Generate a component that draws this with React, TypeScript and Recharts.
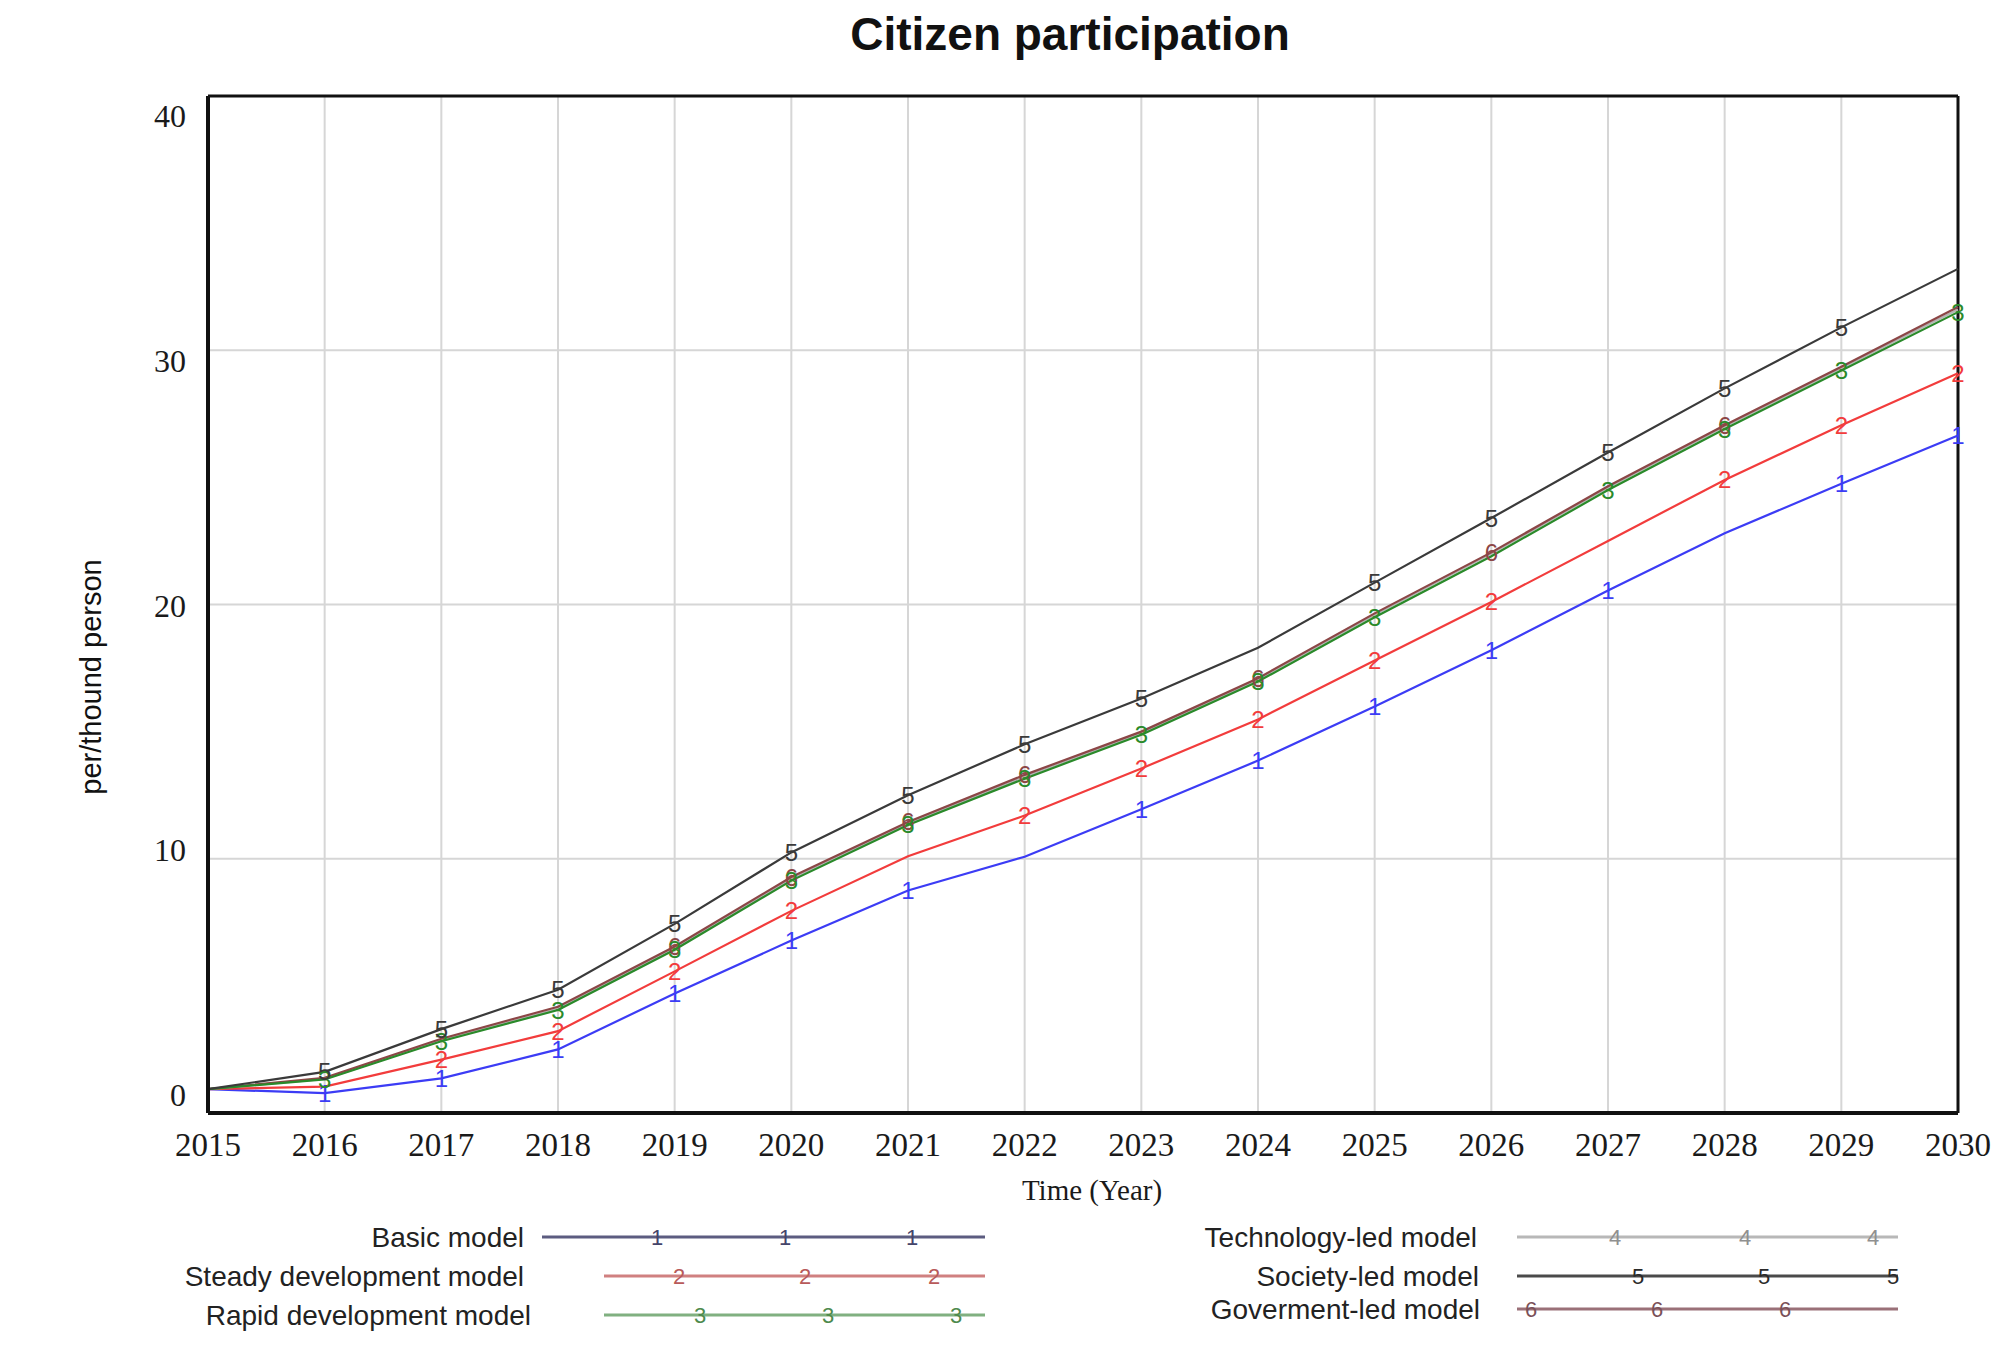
import React from 'react';
import { LineChart, Line, XAxis, YAxis, CartesianGrid, ReferenceLine } from 'recharts';

const YEARS = [2015, 2016, 2017, 2018, 2019, 2020, 2021, 2022, 2023, 2024, 2025, 2026, 2027, 2028, 2029, 2030];
const Y_TICKS = [0, 10, 20, 30, 40];

const BASIC = [0.94, 0.78, 1.36, 2.5, 4.7, 6.78, 8.75, 10.08, 11.95, 13.86, 15.99, 18.2, 20.55, 22.8, 24.75, 26.65];
const STEADY = [0.94, 1.04, 2.1, 3.22, 5.57, 7.95, 10.1, 11.7, 13.55, 15.48, 17.8, 20.1, 22.5, 24.9, 27.05, 29.1];
const RAPID = [0.94, 1.32, 2.82, 4.05, 6.42, 9.14, 11.33, 13.15, 14.88, 16.97, 19.5, 21.9, 24.5, 26.9, 29.2, 31.5];
const TECH = [0.94, 1.34, 2.86, 4.1, 6.48, 9.2, 11.4, 13.22, 14.95, 17.05, 19.6, 22.0, 24.6, 27.0, 29.3, 31.6];
const SOCIETY = [0.94, 1.62, 3.3, 4.85, 7.44, 10.25, 12.5, 14.5, 16.3, 18.3, 20.86, 23.4, 25.98, 28.5, 30.9, 33.2];
const GOV = [0.94, 1.38, 2.92, 4.18, 6.55, 9.28, 11.45, 13.3, 15.0, 17.1, 19.65, 22.05, 24.65, 27.05, 29.35, 31.7];

const NAMES = ['Basic model', 'Steady development model', 'Rapid development model', 'Technology-led model', 'Society-led model', 'Goverment-led model'];
const LABELS = ['1', '2', '3', '4', '5', '6'];

const MARK_BASIC = [2016, 2017, 2018, 2019, 2020, 2021, 2023, 2024, 2025, 2026, 2027, 2029, 2030];
const MARK_STEADY = [2017, 2018, 2019, 2020, 2022, 2023, 2024, 2025, 2026, 2028, 2029, 2030];
const MARK_RAPID = [2016, 2017, 2018, 2019, 2020, 2021, 2022, 2023, 2024, 2025, 2027, 2028, 2029, 2030];
const MARK_TECH: number[] = [];
const MARK_SOCIETY = [2016, 2017, 2018, 2019, 2020, 2021, 2022, 2023, 2025, 2026, 2027, 2028, 2029];
const MARK_GOV = [2019, 2020, 2021, 2022, 2024, 2026, 2028];

const data = YEARS.map((year, i) => ({
  year,
  basic: BASIC[i],
  steady: STEADY[i],
  rapid: RAPID[i],
  tech: TECH[i],
  society: SOCIETY[i],
  gov: GOV[i],
}));

const makeDot = (label: string, color: string, years: number[]) => (props: any) => {
  const { cx, cy, payload, index } = props;
  if (!payload || !years.includes(payload.year)) return <g key={`d-${label}-${index}`} />;
  return (
    <text
      key={`d-${label}-${index}`}
      x={cx}
      y={cy}
      textAnchor="middle"
      dominantBaseline="central"
      fontFamily="'Liberation Sans', Arial, sans-serif"
      fontSize={24}
      fill={color}
    >
      {label}
    </text>
  );
};

const XTick = (props: any) => {
  const { x, y, payload } = props;
  return (
    <text x={x} y={y + 32} textAnchor="middle" dominantBaseline="central" fontFamily="'Liberation Serif', 'Times New Roman', serif" fontSize={33} fill="#1a1a1a">
      {payload.value}
    </text>
  );
};

const YTick = (props: any) => {
  const { x, y, payload } = props;
  const v = payload.value;
  return (
    <text x={x - 22} y={y + 20 - (40 - v) * 0.95} textAnchor="end" dominantBaseline="central" fontFamily="'Liberation Serif', 'Times New Roman', serif" fontSize={32} fill="#1a1a1a">
      {v}
    </text>
  );
};

const SERIES = [
  { key: 'basic', color: '#3c3cf5', label: '1', marks: MARK_BASIC },
  { key: 'steady', color: '#f23c3c', label: '2', marks: MARK_STEADY },
  { key: 'tech', color: '#b4b4b4', label: '4', marks: MARK_TECH },
  { key: 'gov', color: '#8c4646', label: '6', marks: MARK_GOV },
  { key: 'rapid', color: '#2a8a2a', label: '3', marks: MARK_RAPID },
  { key: 'society', color: '#3a3a3a', label: '5', marks: MARK_SOCIETY },
];

// legend layout (wrapper coordinates)
const LEG = [
  { name: NAMES[0], label: LABELS[0], textX: 516, y: 1229, x1: 534, x2: 977, marks: [649, 777, 904], line: '#5c5c80', mark: '#44446a' },
  { name: NAMES[1], label: LABELS[1], textX: 516, y: 1268, x1: 596, x2: 977, marks: [671, 797, 926], line: '#d08080', mark: '#b85a5a' },
  { name: NAMES[2], label: LABELS[2], textX: 523, y: 1307, x1: 596, x2: 977, marks: [692, 820, 948], line: '#80b080', mark: '#4d8a4d' },
  { name: NAMES[3], label: LABELS[3], textX: 1469, y: 1229, x1: 1509, x2: 1890, marks: [1607, 1737, 1865], line: '#b8b8b8', mark: '#909090' },
  { name: NAMES[4], label: LABELS[4], textX: 1471, y: 1268, x1: 1509, x2: 1890, marks: [1630, 1756, 1885], line: '#4a4a4a', mark: '#2a2a2a' },
  { name: NAMES[5], label: LABELS[5], textX: 1472, y: 1301, x1: 1509, x2: 1890, marks: [1523, 1649, 1777], line: '#9a7078', mark: '#7a5058' },
];

export default function App() {
  return (
    <div style={{ position: 'relative', width: 1992, height: 1340, background: '#fff' }}>
      <LineChart
        width={1992}
        height={1340}
        data={data}
        margin={{ top: 88, right: 42, left: 80, bottom: 155 }}
      >
        <CartesianGrid stroke="#d6d6d6" strokeWidth={2} />
        <XAxis
          dataKey="year"
          type="number"
          domain={[2015, 2030]}
          ticks={YEARS}
          interval={0}
          height={80}
          tickSize={0}
          tickMargin={0}
          tickLine={false}
          axisLine={{ stroke: '#111', strokeWidth: 4 }}
          tick={XTick}
        />
        <YAxis
          type="number"
          domain={[0, 40]}
          ticks={Y_TICKS}
          width={120}
          tickSize={0}
          tickMargin={0}
          tickLine={false}
          axisLine={{ stroke: '#111', strokeWidth: 4 }}
          tick={YTick}
        />
        <ReferenceLine y={40} stroke="#111" strokeWidth={3} ifOverflow="visible" />
        <ReferenceLine x={2030} stroke="#111" strokeWidth={3} ifOverflow="visible" />
        {SERIES.map((s) => (
          <Line
            key={s.key}
            type="linear"
            dataKey={s.key}
            stroke={s.color}
            strokeWidth={2.2}
            dot={makeDot(s.label, s.color, s.marks)}
            activeDot={false}
            isAnimationActive={false}
          />
        ))}
      </LineChart>
      <svg
        width={1992}
        height={1340}
        style={{ position: 'absolute', left: 0, top: 0, pointerEvents: 'none' }}
      >
        <text x={1062} y={42} textAnchor="middle" fontFamily="'Liberation Sans', Arial, sans-serif" fontWeight={700} fontSize={46} fill="#111">
          Citizen participation
        </text>
        <text
          x={83}
          y={669}
          textAnchor="middle"
          dominantBaseline="central"
          transform="rotate(-90 83 669)"
          fontFamily="'Liberation Sans', Arial, sans-serif"
          fontSize={29}
          fill="#111"
        >
          per/thound person
        </text>
        <text x={1084} y={1182} textAnchor="middle" dominantBaseline="central" fontFamily="'Liberation Serif', 'Times New Roman', serif" fontSize={29} fill="#1a1a1a">
          Time (Year)
        </text>
        {LEG.map((l) => (
          <g key={l.name}>
            <text x={l.textX} y={l.y} textAnchor="end" dominantBaseline="central" fontFamily="'Liberation Sans', Arial, sans-serif" fontSize={28} fill="#222">
              {l.name}
            </text>
            <line x1={l.x1} x2={l.x2} y1={l.y} y2={l.y} stroke={l.line} strokeWidth={3} />
            {l.marks.map((mx) => (
              <text key={mx} x={mx} y={l.y} textAnchor="middle" dominantBaseline="central" fontFamily="'Liberation Sans', Arial, sans-serif" fontSize={22} fill={l.mark}>
                {l.label}
              </text>
            ))}
          </g>
        ))}
      </svg>
    </div>
  );
}
